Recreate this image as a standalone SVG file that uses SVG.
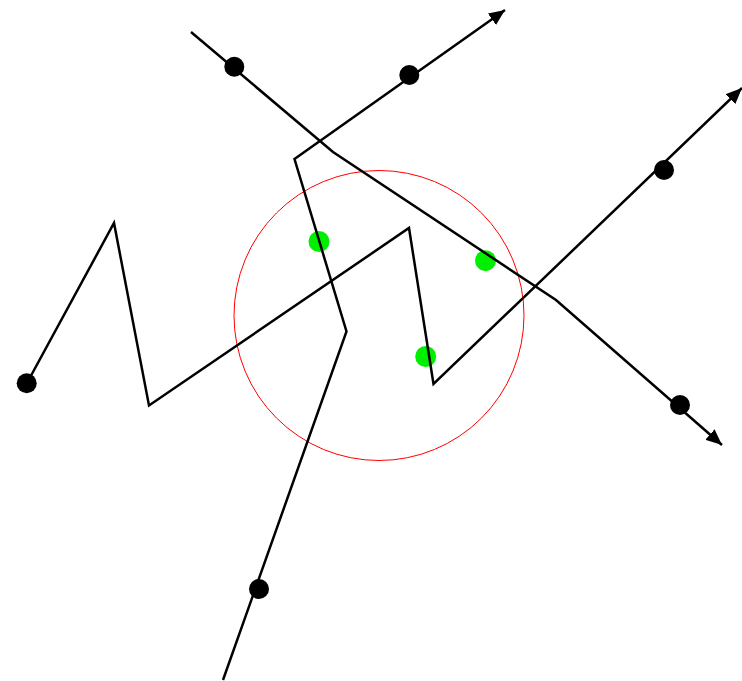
<svg xmlns="http://www.w3.org/2000/svg" width="742" height="681" viewBox="0 0 742 681">
<style>
.ln{fill:none;stroke:#000;stroke-width:2.5;stroke-linejoin:miter}
.dot{fill:#000}
.g{fill:#00ee00}
</style>
<defs>
<marker id="ah" markerUnits="userSpaceOnUse" markerWidth="18" markerHeight="14" refX="16" refY="7" orient="auto">
<path d="M0,0 L16,7 L0,14 Z" fill="#000"/>
</marker>
</defs>
<rect width="742" height="681" fill="#fff"/>
<circle id="circle" cx="379" cy="315.5" r="145" fill="none" stroke="#ff0000" stroke-width="1"/>
<g id="green">
<circle class="g" cx="319" cy="241.5" r="10.5"/>
<circle class="g" cx="485.5" cy="260.7" r="10.5"/>
<circle class="g" cx="425.7" cy="356.5" r="10.5"/>
</g>
<g id="connectors">
<polyline id="line1" class="ln" points="191,32 333,152 556,300 722,445" marker-end="url(#ah)"/>
<polyline id="line2" class="ln" points="223,680 346.5,331.5 294.5,159 505,10" marker-end="url(#ah)"/>
<polyline id="line3" class="ln" points="27,383 114,223 149,405.5 409,228 433.5,384 742,88" marker-end="url(#ah)"/>
</g>
<g id="dots">
<circle class="dot" cx="234.3" cy="66.7" r="10"/>
<circle class="dot" cx="409.3" cy="75" r="10"/>
<circle class="dot" cx="664" cy="170" r="10"/>
<circle class="dot" cx="680" cy="405" r="10"/>
<circle class="dot" cx="26.7" cy="383.3" r="10"/>
<circle class="dot" cx="259" cy="589" r="10"/>
</g>
</svg>
